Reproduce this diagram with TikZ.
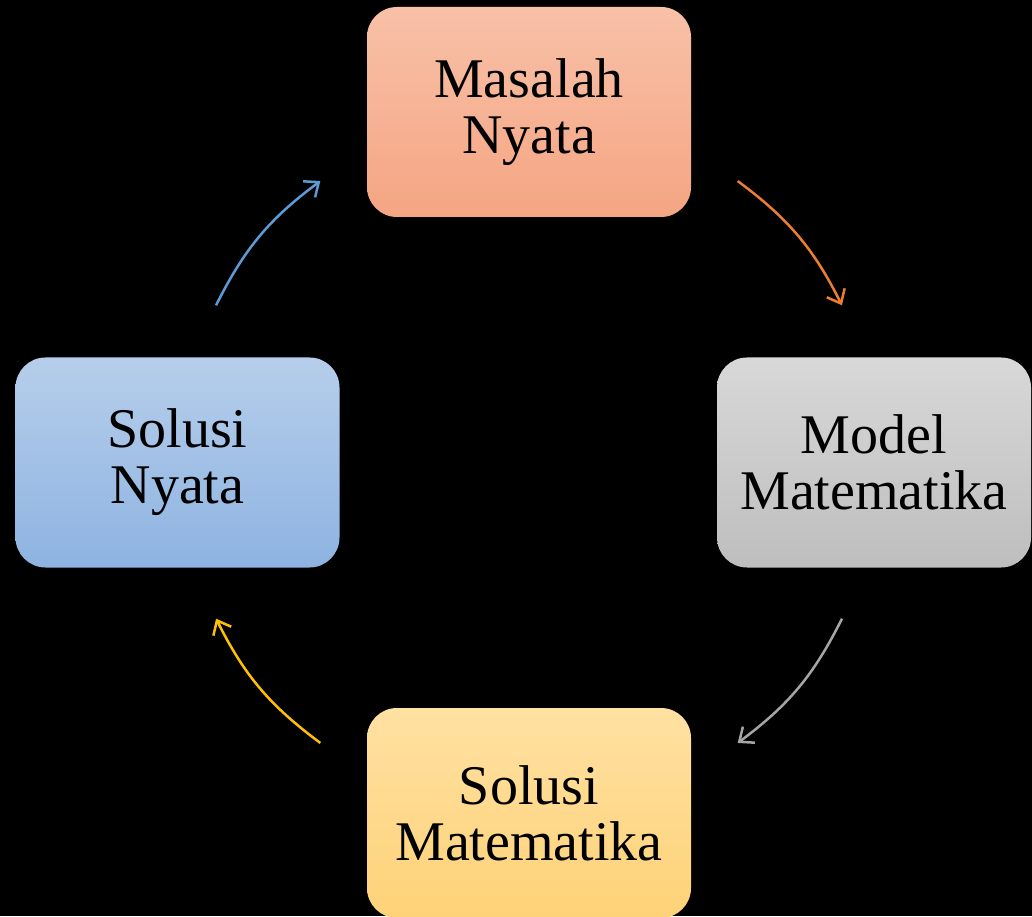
\documentclass[tikz,border=0pt]{standalone}
\usepackage{fontspec}
\setmainfont{Liberation Serif}
\usetikzlibrary{arrows.meta}
\definecolor{orangeA}{RGB}{237,125,49}
\definecolor{grayA}{RGB}{165,165,165}
\definecolor{yellowA}{RGB}{255,192,0}
\definecolor{blueA}{RGB}{91,155,213}
\tikzset{box/.style={rectangle, rounded corners=15pt, minimum width=162pt, minimum height=105pt, align=center, text=black, font=\fontsize{28}{28}\selectfont}}

\begin{document}
\begin{tikzpicture}[x=0.5pt, y=0.5pt, >={Straight Barb[length=6pt, width=10pt]}]
            \fill[black] (0,0) rectangle (1032,916);
            \useasboundingbox (0,0) rectangle (1032,916);
            \node[box, top color={rgb,255:red,248;green,193;blue,168}, bottom color={rgb,255:red,245;green,165;blue,130}] (masalah) at (529,804) {Masalah\\Nyata};
            \node[box, minimum width=157pt, top color={rgb,255:red,216;green,216;blue,216}, bottom color={rgb,255:red,190;green,190;blue,190}] (model) at (874,453.5) {Model\\Matematika};
            \node[box, top color={rgb,255:red,255;green,225;blue,162}, bottom color={rgb,255:red,254;green,210;blue,120}] (solmat) at (529,103) {Solusi\\Matematika};
            \node[box, top color={rgb,255:red,182;green,206;blue,235}, bottom color={rgb,255:red,142;green,179;blue,225}] (solnyata) at (177.5,453.5) {Solusi\\Nyata};
            \coordinate (C) at (529,454);
            % arrows around the cycle
            \foreach \i/\a/\col in {1/53.4/orangeA, 2/-26.6/grayA, 3/-126.6/yellowA, 4/153.4/blueA}{
              \coordinate (s\i) at ([shift={(\a:175pt)}]C);
              \coordinate (e\i) at ([shift={(\a-26.8:175pt)}]C);
              \draw[->, \col, line width=1.25pt] (s\i) to[bend left=13.4] (e\i);
            }
          \end{tikzpicture}
\end{document}
